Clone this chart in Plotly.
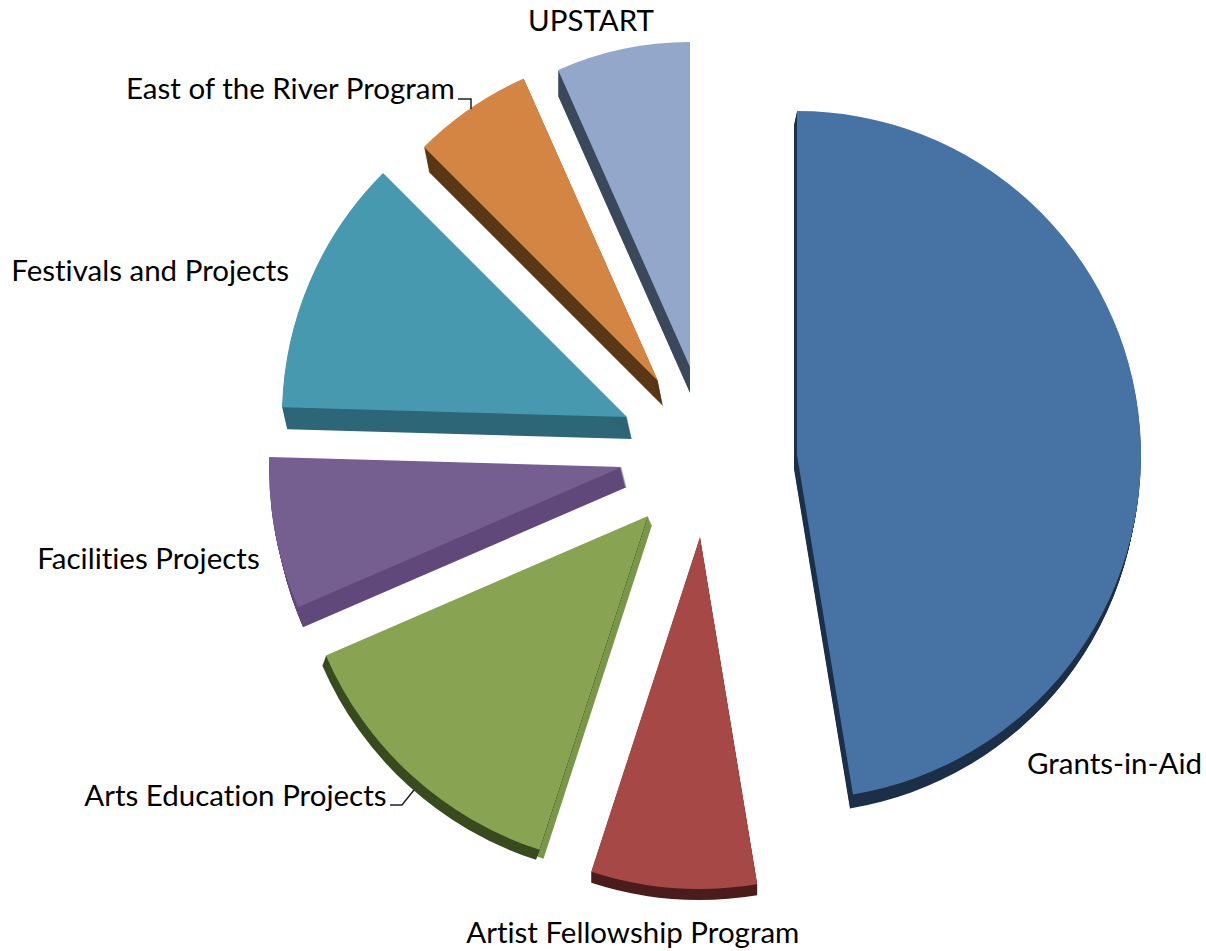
import plotly.graph_objects as go

W, H = 1206, 951
labels = ["Grants-in-Aid", "Artist Fellowship Program", "Arts Education Projects",
          "Facilities Projects", "Festivals and Projects", "East of the River Program", "UPSTART"]
values = [47.4, 7.6, 13.5, 6.95, 12.05, 5.85, 6.65]
top_colors = ["#4672a4", "#a54846", "#88a351", "#755e90", "#4799b0", "#d58543", "#93a7ca"]

# Placement of each exploded slice: apex (px) and radius (px)
apex = [(797, 455), (700, 537), (648, 516), (622, 467), (627, 417), (658, 381), (690, 367)]
radii = [344, 352, 351, 353, 345, 331, 325]
# Extruded sides drawn under each slice: (slice index, dx, dy, colour)
sides = [(0, -3, 14, "#1c2f48"), (1, 0, 11, "#4a1c1b"), (2, 4, 9, "#7a9648"), (2, -3.6, 10, "#384a1e"),
         (3, 5, 20, "#60497a"), (4, 5, 22, "#2d6677"), (5, 5, 25, "#5a3715"), (6, 0, 26, "#3b485c")]
STEP_PX = 1.0


def domain(i, dx=0, dy=0):
    x, y = apex[i]
    r = radii[i]
    return dict(x=[max(0, (x + dx - r) / W), min(1, (x + dx + r) / W)],
                y=[max(0, 1 - (y + dy + r) / H), min(1, 1 - (y + dy - r) / H)])


def one_slice(i, color):
    colors = ["rgba(0,0,0,0)"] * len(labels)
    colors[i] = color
    return dict(colors=colors, line=dict(width=0))


fig = go.Figure()
common = dict(labels=labels, values=values, sort=False, direction="clockwise", rotation=0,
              textinfo="none", showlegend=False)
for i, dx, dy, color in sides:
    n = int(max(abs(dx), abs(dy)) / STEP_PX)
    for k in range(1, n + 1):
        t = k / n
        fig.add_trace(go.Pie(**common, domain=domain(i, dx * t, dy * t),
                             marker=one_slice(i, color), hoverinfo="skip"))
for i, color in enumerate(top_colors):
    fig.add_trace(go.Pie(**common, domain=domain(i), marker=one_slice(i, color), hoverinfo="label+percent"))

label_pos = [(1114.5, 762), (633, 931), (235, 794), (148, 557), (150, 269), (290, 88), (591, 20)]
for text, (x, y) in zip(labels, label_pos):
    fig.add_annotation(x=x / W, y=1 - y / H, xref="paper", yref="paper", text=text,
                       showarrow=False, xanchor="center", yanchor="middle",
                       font=dict(family="Lato", size=29.5, color="#000000"))

leaders = [[(458, 99), (471, 99), (471, 109)], [(390, 805), (402, 805), (414, 790)]]
for pts in leaders:
    path = "M " + " L ".join(f"{x / W:.5f} {1 - y / H:.5f}" for x, y in pts)
    fig.add_shape(type="path", xref="paper", yref="paper", path=path,
                  line=dict(color="#222222", width=1.5))

fig.update_layout(width=W, height=H, margin=dict(l=0, r=0, t=0, b=0),
                  paper_bgcolor="#ffffff", plot_bgcolor="#ffffff")
fig.write_html("out.html", config=dict(displayModeBar=False), post_script=(
    "document.body.style.margin='0';"
    "var s=document.createElement('style');"
    "s.textContent='.annotation-text{font-variant-ligatures:none !important}';"
    "document.head.appendChild(s);"))
